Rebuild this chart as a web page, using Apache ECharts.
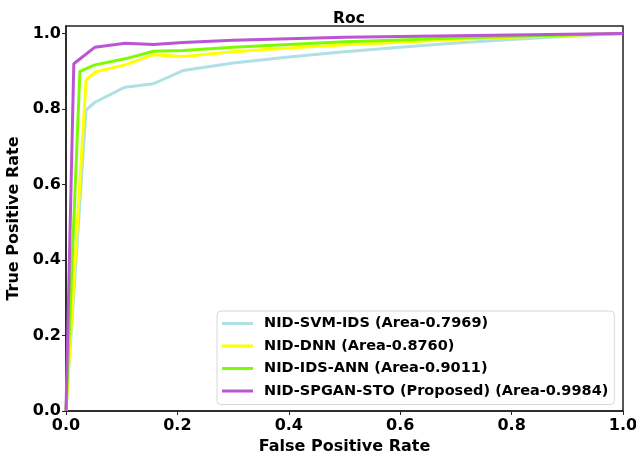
<!DOCTYPE html>
<html><head><meta charset="utf-8">
<script src="https://cdn.jsdelivr.net/npm/echarts@6/dist/echarts.min.js"></script>
<style>html,body{margin:0;padding:0;background:#fff}#c{width:636px;height:454px}</style>
</head><body><div id="c"></div>
<script>
const seriesNames = ['NID-SVM-IDS (Area-0.7969)','NID-DNN (Area-0.8760)','NID-IDS-ANN (Area-0.9011)','NID-SPGAN-STO (Proposed) (Area-0.9984)'];
const colors = ['#b0e0e6','#ffff00','#7cfc00','#ba55d3'];
const svmX = [0, 0.036, 0.052, 0.106, 0.157, 0.21, 0.3, 0.4, 0.5, 0.6, 0.7, 0.8, 0.9, 1.0];
const svmY = [0, 0.798, 0.818, 0.858, 0.867, 0.902, 0.922, 0.938, 0.952, 0.964, 0.975, 0.984, 0.993, 1.0];
const dnnX = [0, 0.036, 0.052, 0.106, 0.157, 0.21, 0.3, 0.4, 0.5, 0.6, 0.7, 0.8, 0.9, 1.0];
const dnnY = [0, 0.876, 0.898, 0.917, 0.944, 0.939, 0.952, 0.962, 0.970, 0.977, 0.984, 0.990, 0.995, 1.0];
const annX = [0, 0.025, 0.052, 0.106, 0.157, 0.21, 0.3, 0.4, 0.5, 0.6, 0.7, 0.8, 0.9, 1.0];
const annY = [0, 0.900, 0.917, 0.933, 0.953, 0.955, 0.964, 0.971, 0.978, 0.983, 0.988, 0.992, 0.996, 1.0];
const spgX = [0, 0.014, 0.052, 0.106, 0.157, 0.21, 0.3, 0.4, 0.5, 0.6, 0.7, 0.8, 0.9, 1.0];
const spgY = [0, 0.920, 0.964, 0.974, 0.971, 0.976, 0.982, 0.986, 0.990, 0.992, 0.994, 0.996, 0.998, 1.0];
const xs = [svmX, dnnX, annX, spgX];
const ys = [svmY, dnnY, annY, spgY];

const chart = echarts.init(document.getElementById('c'));
const font = 'DejaVu Sans';
chart.setOption({
  animation: false,
  title: {text: 'Roc', left: 344, top: 6, textAlign: 'center',
    textStyle: {fontFamily: font, fontWeight: 'bold', fontSize: 15.5, color: '#000'}},
  grid: {left: 66, right: 13, top: 26, bottom: 43, show: true, borderColor: '#222', borderWidth: 1.5,
    backgroundColor: '#fff', containLabel: false, outerBoundsMode: 'none'},
  xAxis: {type: 'value', min: 0, max: 1, interval: 0.2,
    name: 'False Positive Rate', nameLocation: 'middle', nameGap: 24,
    nameTextStyle: {fontFamily: font, fontWeight: 'bold', fontSize: 16, color: '#000'},
    axisLine: {show: true, lineStyle: {color: '#222', width: 1.5}},
    axisTick: {show: true, length: 4, lineStyle: {color: '#222'}},
    splitLine: {show: false},
    axisLabel: {fontFamily: font, fontWeight: 'bold', fontSize: 16, color: '#000', margin: 7,
      formatter: v => v.toFixed(1)}},
  yAxis: {type: 'value', min: 0, max: 1.02, interval: 0.2,
    name: 'True Positive Rate', nameLocation: 'middle', nameGap: 37, nameRotate: 90,
    nameTextStyle: {fontFamily: font, fontWeight: 'bold', fontSize: 16, color: '#000'},
    axisLine: {show: true, lineStyle: {color: '#222', width: 1.5}},
    axisTick: {show: true, length: 4, lineStyle: {color: '#222'}},
    splitLine: {show: false},
    axisLabel: {fontFamily: font, fontWeight: 'bold', fontSize: 16, color: '#000', margin: 5,
      showMaxLabel: false,
      formatter: v => (Math.abs(v*5 - Math.round(v*5)) < 1e-6 ? v.toFixed(1) : '')}},
  legend: {orient: 'vertical', left: 217, top: 311, itemWidth: 31, itemHeight: 3, icon: 'rect',
    itemGap: 7.5, padding: [5, 6, 6, 5], borderColor: '#d8d8d8', borderWidth: 1, borderRadius: 4,
    backgroundColor: '#fff',
    textStyle: {fontFamily: font, fontWeight: 'bold', fontSize: 14.5, color: '#000', padding: [0,0,0,6]},
    data: seriesNames},
  series: seriesNames.map((n, i) => ({
    name: n, type: 'line', showSymbol: false, symbol: 'none',
    color: colors[i],
    lineStyle: {width: 3, color: colors[i]},
    data: xs[i].map((x, k) => [x, ys[i][k]])
  }))
});
</script></body></html>
